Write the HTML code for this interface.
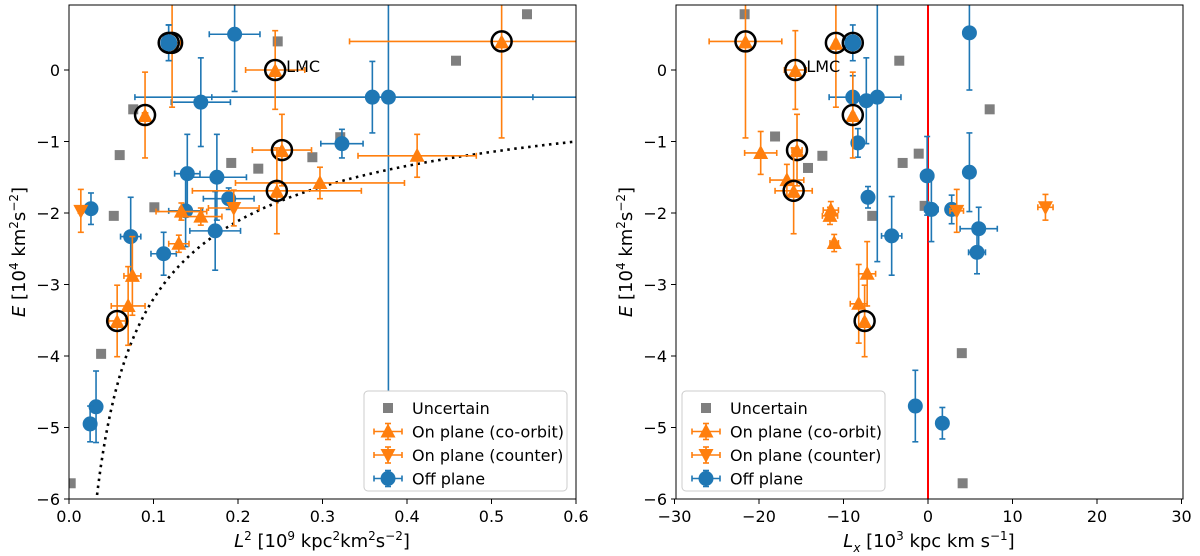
<!DOCTYPE html>
<html><head><meta charset="utf-8"><style>
html,body{margin:0;background:#fff;overflow:hidden;width:1200px;height:556px}
svg{display:block;font-family:"DejaVu Sans","Liberation Sans",sans-serif}
</style></head><body>
<svg id="chart" width="1200" height="556" viewBox="0 0 1200 556">
<defs>
<clipPath id="clipL"><rect x="69" y="5" width="507" height="494"/></clipPath>
<clipPath id="clipR"><rect x="676" y="5" width="507" height="494"/></clipPath>
</defs>
<g id="root"></g>
</svg>
<script>
// ---- data: left panel (L^2 vs E) ----
const leftOffL=[0.196,0.118,0.156,0.359,0.378,0.323,0.140,0.175,0.189,0.138,0.173,0.073,0.112,0.026,0.032,0.025];
const leftOffE=[0.50,0.38,-0.45,-0.38,-0.38,-1.03,-1.45,-1.50,-1.80,-1.97,-2.25,-2.33,-2.57,-1.94,-4.71,-4.95];
const leftOffXe=[0.03,0.005,0.035,0.19,0.3,0.025,0.015,0.035,0.03,0.02,0.03,0.012,0.015,0.005,0.007,0.005];
const leftOffYe=[0.8,0.25,0.62,0.5,5.0,0.2,0.55,0.6,0.15,0.5,0.55,0.55,0.3,0.22,0.5,0.25];
const leftCoL=[0.412,0.297,0.133,0.156,0.130,0.075,0.070];
const leftCoE=[-1.20,-1.58,-1.98,-2.05,-2.43,-2.88,-3.30];
const leftCoXe=[0.07,0.1,0.03,0.025,0.012,0.01,0.02];
const leftCoYe=[0.3,0.22,0.12,0.12,0.12,0.55,0.55];
const leftCtL=[0.014,0.195];
const leftCtE=[-1.97,-1.93];
const leftCtXe=[0.003,0.03];
const leftCtYe=[0.3,0.25];
const leftUncL=[0.542,0.247,0.458,0.076,0.060,0.192,0.224,0.288,0.321,0.101,0.053,0.038,0.002];
const leftUncE=[0.78,0.40,0.13,-0.55,-1.19,-1.30,-1.38,-1.22,-0.94,-1.92,-2.04,-3.97,-5.78];
const circL=[0.512,0.122,0.118,0.244,0.090,0.252,0.246,0.057];
const circE=[0.40,0.38,0.38,0.0,-0.63,-1.12,-1.69,-3.51];
const circLXe=[0.18,0.01,0.005,0.035,0.003,0.035,0.1,0.01];
const circYe=[1.35,0.9,0.25,0.55,0.6,0.5,0.6,0.5];
const circBlue=[false,false,true,false,false,false,false,false];
// ---- data: right panel (Lx vs E) ----
const rightOffLx=[4.9,-8.9,-7.3,-6.0,-0.1,4.9,-7.1,0.4,2.8,6.0,-4.3,5.8,-1.5,1.7,-8.3];
const rightOffE=[0.52,-0.38,-0.43,-0.38,-1.48,-1.43,-1.78,-1.95,-1.95,-2.22,-2.32,-2.55,-4.70,-4.94,-1.02];
const rightOffXe=[0.5,2.8,0.5,2.8,0.5,0.5,0.6,0.8,0.5,2.2,1.2,1.0,0.7,0.4,0.4];
const rightOffYe=[0.8,0.3,0.6,2.3,0.55,0.55,0.15,0.45,0.2,0.3,0.55,0.3,0.5,0.22,0.2];
const rightCoLx=[-19.8,-16.7,-11.5,-11.6,-11.1,-7.2,-8.2];
const rightCoE=[-1.16,-1.54,-1.96,-2.04,-2.42,-2.85,-3.27];
const rightCoXe=[1.9,2.0,0.9,0.9,0.5,1.0,1.0];
const rightCoYe=[0.3,0.22,0.12,0.12,0.12,0.45,0.55];
const rightCtLx=[3.4,13.9];
const rightCtE=[-1.97,-1.92];
const rightCtXe=[0.8,0.9];
const rightCtYe=[0.3,0.18];
const rightUncLx=[-21.7,-3.4,7.3,-18.1,-12.5,-14.2,-3.0,-1.1,-0.4,-6.6,4.0,4.1];
const rightUncE=[0.78,0.13,-0.55,-0.93,-1.2,-1.37,-1.3,-1.17,-1.9,-2.04,-3.96,-5.78];
const circLx=[-21.6,-10.9,-8.9,-15.7,-8.9,-15.5,-15.9,-7.5];
const circRXe=[4.3,0.2,0.2,1.3,0.2,0.6,2.2,0.2];
const yTicks=[0,-1,-2,-3,-4,-5,-6];
const xTicksL=[0.0,0.1,0.2,0.3,0.4,0.5,0.6];
const xTickLabelsL=["0.0","0.1","0.2","0.3","0.4","0.5","0.6"];
const xTicksR=[-30,-20,-10,0,10,20,30];
const curveA=0.518, curveB=1.176;

const NS="http://www.w3.org/2000/svg";
const root=document.getElementById('root');
function el(tag,attrs,parent,text){const e=document.createElementNS(NS,tag);for(const k in attrs)e.setAttribute(k,attrs[k]);if(text!==undefined)e.textContent=text;(parent||root).appendChild(e);return e;}
const BLUE="#1f77b4",ORANGE="#ff7f0e",GRAY="#7f7f7f";
const yS=v=>70-v*71.5;
const xL=v=>69+v*845;
const xR=v=>928+v*8.45;

function errbar(g,sx,x,y,xe,ye,col){
  const px=sx(x),py=yS(y),x0=sx(x-xe),x1=sx(x+xe),y0=yS(y+ye),y1=yS(y-ye);
  el('line',{x1:x0,y1:py,x2:x1,y2:py,stroke:col,'stroke-width':1.6},g);
  el('line',{x1:px,y1:y0,x2:px,y2:y1,stroke:col,'stroke-width':1.6},g);
  [[x0,py-3,x0,py+3],[x1,py-3,x1,py+3],[px-3,y0,px+3,y0],[px-3,y1,px+3,y1]].forEach(c=>el('line',{x1:c[0],y1:c[1],x2:c[2],y2:c[3],stroke:col,'stroke-width':1.6},g));
}
function marker(g,type,px,py,col){
  if(type==='circle') return el('circle',{cx:px,cy:py,r:7.5,fill:col},g);
  if(type==='up') return el('polygon',{points:`${px},${py-8} ${px-7.5},${py+6} ${px+7.5},${py+6}`,fill:col},g);
  if(type==='down') return el('polygon',{points:`${px},${py+8} ${px-7.5},${py-6} ${px+7.5},${py-6}`,fill:col},g);
  if(type==='square') return el('rect',{x:px-5,y:py-5,width:10,height:10,fill:col},g);
}

function panel(side,clip){
  const g=el('g',{'clip-path':`url(#${clip})`});
  
  
  return g;
}

function drawAxes(side,sx,x0,xt,xtl,xlabelHtml){
  const ax=el('g',{});
  
  
  el('rect',{x:x0,y:5,width:507,height:494,fill:'none',stroke:'#000','stroke-width':1},ax);
  yTicks.forEach(t=>{
    const y=yS(t);
    el('line',{x1:x0-5,y1:y,x2:x0,y2:y,stroke:'#000'},ax);
    const tx=el('text',{x:x0-9,y:y+6,'text-anchor':'end','font-size':16},ax,t===0?'0':'\u2212'+Math.abs(t));
    
    
  });
  xt.forEach((t,i)=>{
    const x=sx(t);
    el('line',{x1:x,y1:499,x2:x,y2:504,stroke:'#000'},ax);
    const tx=el('text',{x:x,y:522,'text-anchor':'middle','font-size':16},ax,xtl[i]);
    
    
  });
  const yl=el('text',{transform:`translate(${x0-44},252) rotate(-90)`,'text-anchor':'middle','font-size':18},ax);
  yl.innerHTML='<tspan font-style="italic">E</tspan> [10<tspan dy="-7" font-size="12">4</tspan><tspan dy="7"> km</tspan><tspan dy="-7" font-size="12">2</tspan><tspan dy="7">s</tspan><tspan dy="-7" font-size="12">\u22122</tspan><tspan dy="7">]</tspan>';
  
  
  const xl=el('text',{x:x0+253,y:547,'text-anchor':'middle','font-size':18},ax);
  xl.innerHTML=xlabelHtml;
  
  
}

function drawSeries(g,side,sx,xs,es,xe,ye,col,type,name){
  xs.forEach((x,i)=>{
    const s=el('g',{},g);
    
    
    if(xe) errbar(s,sx,x,es[i],xe[i],ye[i],col);
    marker(s,type,sx(x),yS(es[i]),col);
  });
}
function drawCircled(g,side,sx,xs,xe){
  xs.forEach((x,i)=>{
    const s=el('g',{},g);
    
    
    const col=circBlue[i]?BLUE:ORANGE;
    errbar(s,sx,x,circE[i],xe[i],circYe[i],col);
    if(circBlue[i]) el('circle',{cx:sx(x),cy:yS(circE[i]),r:8.5,fill:col},s);
    else marker(s,'up',sx(x),yS(circE[i])+1,col);
    el('circle',{cx:sx(x),cy:yS(circE[i]),r:10,fill:'none',stroke:'#000','stroke-width':2.5},s);
  });
}
function legend(side,lx){
  const lg=el('g',{});
  
  
  el('rect',{x:lx,y:391,width:203,height:100,rx:4,fill:'#fff',stroke:'#ccc'},lg);
  const items=[['Uncertain','square',GRAY],['On plane (co-orbit)','up',ORANGE],['On plane (counter)','down',ORANGE],['Off plane','circle',BLUE]];
  items.forEach((it,i)=>{
    const y=408+i*23.5;
    const e=el('g',{},lg);
    
    
    if(it[1]!=='square'){
      el('line',{x1:lx+10,y1:y,x2:lx+38,y2:y,stroke:it[2],'stroke-width':1.6},e);
      el('line',{x1:lx+24,y1:y-8,x2:lx+24,y2:y+8,stroke:it[2],'stroke-width':1.6},e);
      [[lx+10,y-3,lx+10,y+3],[lx+38,y-3,lx+38,y+3],[lx+21,y-8,lx+27,y-8],[lx+21,y+8,lx+27,y+8]].forEach(c=>el('line',{x1:c[0],y1:c[1],x2:c[2],y2:c[3],stroke:it[2],'stroke-width':1.6},e));
    }
    marker(e,it[1],lx+24,y,it[2]);
    el('text',{x:lx+48,y:y+6,'font-size':16},e,it[0]);
  });
}

// Left panel
const gL=panel('left','clipL');
let d='';for(let i=0;i<=200;i++){const L=0.02+i*(0.58/200);const E=curveA-curveB/Math.sqrt(L);d+=(i?'L':'M')+xL(L).toFixed(1)+','+yS(E).toFixed(1);}
const cv=el('path',{d:d,fill:'none',stroke:'#000','stroke-width':2.6,'stroke-dasharray':'2.5,4.5'},gL);


drawSeries(gL,'left',xL,leftUncL,leftUncE,null,null,GRAY,'square','uncertain');
drawSeries(gL,'left',xL,leftOffL,leftOffE,leftOffXe,leftOffYe,BLUE,'circle','off-plane');
drawSeries(gL,'left',xL,leftCoL,leftCoE,leftCoXe,leftCoYe,ORANGE,'up','co-orbit');
drawSeries(gL,'left',xL,leftCtL,leftCtE,leftCtXe,leftCtYe,ORANGE,'down','counter');
drawCircled(gL,'left',xL,circL,circLXe);
const lmcL=el('text',{x:xL(circL[3])+11,y:yS(circE[3])+2,'font-size':16},gL,'LMC');


drawAxes('left',xL,69,xTicksL,xTickLabelsL,'<tspan font-style="italic">L</tspan><tspan dy="-7" font-size="12">2</tspan><tspan dy="7"> [10</tspan><tspan dy="-7" font-size="12">9</tspan><tspan dy="7"> kpc</tspan><tspan dy="-7" font-size="12">2</tspan><tspan dy="7">km</tspan><tspan dy="-7" font-size="12">2</tspan><tspan dy="7">s</tspan><tspan dy="-7" font-size="12">\u22122</tspan><tspan dy="7">]</tspan>');
legend('left',364);

// Right panel
const gR=panel('right','clipR');
const zl=el('line',{x1:xR(0),y1:5,x2:xR(0),y2:499,stroke:'#ff0000','stroke-width':2},gR);


drawSeries(gR,'right',xR,rightUncLx,rightUncE,null,null,GRAY,'square','uncertain');
drawSeries(gR,'right',xR,rightOffLx,rightOffE,rightOffXe,rightOffYe,BLUE,'circle','off-plane');
drawSeries(gR,'right',xR,rightCoLx,rightCoE,rightCoXe,rightCoYe,ORANGE,'up','co-orbit');
drawSeries(gR,'right',xR,rightCtLx,rightCtE,rightCtXe,rightCtYe,ORANGE,'down','counter');
drawCircled(gR,'right',xR,circLx,circRXe);
const lmcR=el('text',{x:xR(circLx[3])+11,y:yS(circE[3])+2,'font-size':16},gR,'LMC');


drawAxes('right',xR,676,xTicksR,xTicksR.map(t=>t<0?'\u2212'+Math.abs(t):String(t)),'<tspan font-style="italic">L</tspan><tspan dy="5" font-size="12" font-style="italic">x</tspan><tspan dy="-5"> [10</tspan><tspan dy="-7" font-size="12">3</tspan><tspan dy="7"> kpc km s</tspan><tspan dy="-7" font-size="12">\u22121</tspan><tspan dy="7">]</tspan>');
legend('right',682);
</script>
</body></html>
